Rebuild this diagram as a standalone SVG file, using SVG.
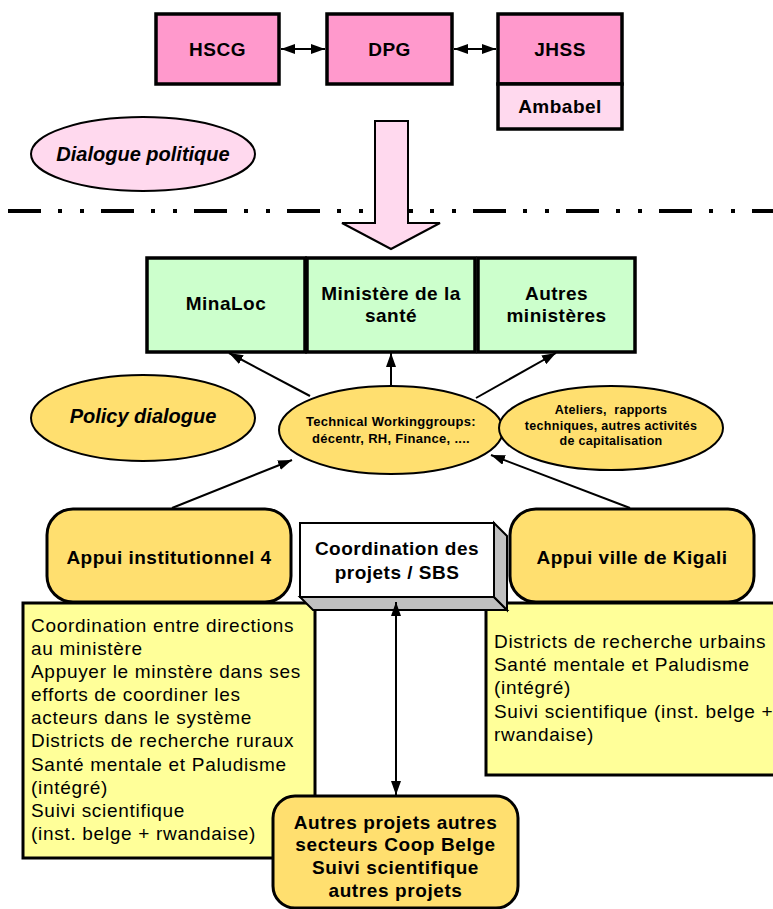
<svg xmlns="http://www.w3.org/2000/svg" width="773" height="909" viewBox="0 0 773 909">
<style>
.b{font-family:"Liberation Sans",Arial,sans-serif;font-weight:bold;font-size:19px;letter-spacing:0.5px;text-anchor:middle;fill:#000}
.bi{font-family:"Liberation Sans",Arial,sans-serif;font-weight:bold;font-style:italic;font-size:20px;text-anchor:middle;fill:#000}
.s{font-family:"Liberation Sans",Arial,sans-serif;font-weight:bold;font-size:13px;letter-spacing:0.3px;text-anchor:middle;fill:#000}
.n{font-family:"Liberation Sans",Arial,sans-serif;font-size:19px;letter-spacing:0.7px;fill:#000}
.box{stroke:#000;stroke-width:3.5}
.ell{stroke:#000;stroke-width:2}
.c{stroke:#000;stroke-width:2;fill:none}
</style>
<defs>
<marker id="ah" viewBox="0 0 14 10" refX="14" refY="5" markerWidth="14" markerHeight="10" markerUnits="userSpaceOnUse" orient="auto-start-reverse">
<path d="M0,0 L14,5 L0,10 Z" fill="#000"/>
</marker>
</defs>

<g id="dialogue-politique">
<ellipse cx="143" cy="154" rx="112" ry="37" fill="#FFD9EE" class="ell"/>
<text x="143" y="161" class="bi">Dialogue politique</text>
</g>

<line x1="8" y1="211" x2="773" y2="211" stroke="#000" stroke-width="4" stroke-dasharray="33 17 4 18 4 17"/>

<g id="big-arrow">
<polygon points="375,121 408,121 408,223 440,223 391,249 342,223 375,223" fill="#FFD9EE" stroke="#000" stroke-width="2"/>
</g>

<g id="hscg">
<rect x="156" y="14" width="123" height="70" fill="#FF99CC" class="box"/>
<text x="217.5" y="56" class="b">HSCG</text>
</g>
<g id="dpg">
<rect x="327" y="14" width="125" height="70" fill="#FF99CC" class="box"/>
<text x="389.5" y="56" class="b">DPG</text>
</g>
<g id="jhss">
<rect x="498" y="14" width="124" height="70" fill="#FF99CC" class="box"/>
<text x="560" y="56" class="b">JHSS</text>
</g>
<g id="ambabel">
<rect x="498" y="84" width="124" height="45" fill="#FFD9EE" class="box"/>
<text x="560" y="113" class="b">Ambabel</text>
</g>

<g id="minaloc">
<rect x="147" y="258" width="158" height="94" fill="#CCFFCC" class="box"/>
<text x="226" y="310" class="b">MinaLoc</text>
</g>
<g id="ministere-sante">
<rect x="307" y="258" width="168" height="94" fill="#CCFFCC" class="box"/>
<text x="391" y="300" class="b">Ministère de la</text>
<text x="391" y="322" class="b">santé</text>
</g>
<g id="autres-ministeres">
<rect x="478" y="258" width="157" height="94" fill="#CCFFCC" class="box"/>
<text x="556.5" y="300" class="b">Autres</text>
<text x="556.5" y="322" class="b">ministères</text>
</g>

<g id="policy-dialogue">
<ellipse cx="143" cy="418" rx="112" ry="43" fill="#FFDF6F" class="ell"/>
<text x="143" y="423" class="bi">Policy dialogue</text>
</g>
<g id="twg">
<ellipse cx="391" cy="430" rx="112" ry="44" fill="#FFDF6F" class="ell"/>
<text x="391" y="426" class="s">Technical Workinggroups:</text>
<text x="391" y="443" class="s">décentr, RH, Finance, ....</text>
</g>
<g id="ateliers">
<ellipse cx="611" cy="428" rx="112" ry="42" fill="#FFDF6F" class="ell"/>
<text x="611" y="414" class="s" style="font-size:12.5px">Ateliers, &#160;rapports</text>
<text x="611" y="430" class="s" style="font-size:12.5px">techniques, autres activités</text>
<text x="611" y="445" class="s" style="font-size:12.5px">de capitalisation</text>
</g>

<g id="note-left">
<rect x="23" y="603" width="292" height="255" fill="#FFFF99" stroke="#000" stroke-width="3"/>
<text class="n">
<tspan x="31" y="632">Coordination entre directions</tspan>
<tspan x="31" y="655">au ministère</tspan>
<tspan x="31" y="678">Appuyer le minstère dans ses</tspan>
<tspan x="31" y="701">efforts de coordiner les</tspan>
<tspan x="31" y="724">acteurs dans le système</tspan>
<tspan x="31" y="747">Districts de recherche ruraux</tspan>
<tspan x="31" y="771">Santé mentale et Paludisme</tspan>
<tspan x="31" y="794">(intégré)</tspan>
<tspan x="31" y="817">Suivi scientifique</tspan>
<tspan x="31" y="840">(inst. belge + rwandaise)</tspan>
</text>
</g>
<g id="note-right">
<rect x="486" y="603" width="300" height="172" fill="#FFFF99" stroke="#000" stroke-width="3"/>
<text class="n">
<tspan x="494" y="648">Districts de recherche urbains</tspan>
<tspan x="494" y="671">Santé mentale et Paludisme</tspan>
<tspan x="494" y="694">(intégré)</tspan>
<tspan x="494" y="718">Suivi scientifique (inst. belge +</tspan>
<tspan x="494" y="741">rwandaise)</tspan>
</text>
</g>

<g id="appui-institutionnel">
<rect x="47" y="509" width="244" height="93" rx="26" fill="#FFDF6F" stroke="#000" stroke-width="3"/>
<text x="169" y="564" class="b">Appui institutionnel 4</text>
</g>
<g id="appui-kigali">
<rect x="510" y="509" width="244" height="93" rx="26" fill="#FFDF6F" stroke="#000" stroke-width="3"/>
<text x="632" y="564" class="b">Appui ville de Kigali</text>
</g>

<g id="coordination">
<polygon points="300,597 494,597 507,610 313,610" fill="#C0C0C0" stroke="#000" stroke-width="2"/>
<polygon points="494,523 507,536 507,610 494,597" fill="#C0C0C0" stroke="#000" stroke-width="2"/>
<rect x="300" y="523" width="194" height="74" fill="#FFFFFF" stroke="#000" stroke-width="2"/>
<text x="397" y="555" class="b">Coordination des</text>
<text x="397" y="579" class="b">projets / SBS</text>
</g>

<g id="autres-projets">
<rect x="273" y="796" width="245" height="112" rx="22" fill="#FFDF6F" stroke="#000" stroke-width="3"/>
<text x="395.5" y="829" class="b" style="letter-spacing:0.6px">Autres projets autres</text>
<text x="395.5" y="851" class="b" style="letter-spacing:0.6px">secteurs Coop Belge</text>
<text x="395.5" y="874" class="b" style="letter-spacing:0.6px">Suivi scientifique</text>
<text x="395.5" y="897" class="b" style="letter-spacing:0.6px">autres projets</text>
</g>

<g id="connectors">
<line x1="281" y1="49" x2="325" y2="49" class="c" marker-start="url(#ah)" marker-end="url(#ah)"/>
<line x1="454" y1="49" x2="496" y2="49" class="c" marker-start="url(#ah)" marker-end="url(#ah)"/>
<line x1="310" y1="396" x2="229" y2="353" class="c" marker-end="url(#ah)"/>
<line x1="391" y1="386" x2="391" y2="353" class="c" marker-end="url(#ah)"/>
<line x1="476" y1="398" x2="556" y2="353" class="c" marker-end="url(#ah)"/>
<line x1="172" y1="508" x2="292" y2="460" class="c" marker-end="url(#ah)"/>
<line x1="630" y1="508" x2="491" y2="455" class="c" marker-end="url(#ah)"/>
<line x1="396" y1="602" x2="396" y2="795" class="c" marker-start="url(#ah)" marker-end="url(#ah)"/>
</g>
</svg>
